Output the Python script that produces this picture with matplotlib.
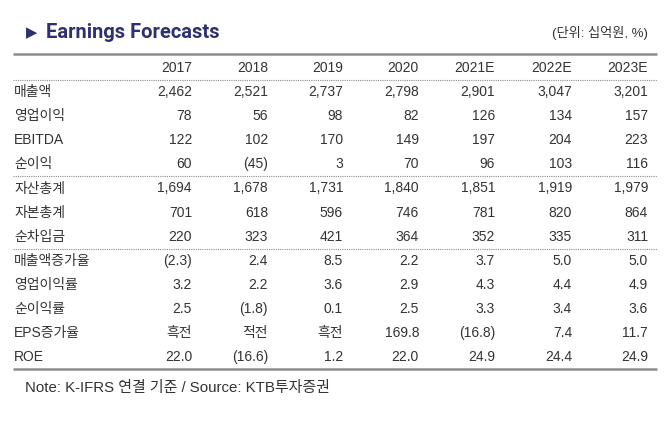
import matplotlib.pyplot as plt

plt.rcParams['font.family'] = ['Liberation Sans', 'Noto Sans CJK KR']

years = ['2017', '2018', '2019', '2020', '2021E', '2022E', '2023E']
row_labels = ['매출액', '영업이익', 'EBITDA', '순이익',
              '자산총계', '자본총계', '순차입금',
              '매출액증가율', '영업이익률', '순이익률', 'EPS증가율', 'ROE']
sales = ['2,462', '2,521', '2,737', '2,798', '2,901', '3,047', '3,201']
op_profit = ['78', '56', '98', '82', '126', '134', '157']
ebitda = ['122', '102', '170', '149', '197', '204', '223']
net_income = ['60', '(45)', '3', '70', '96', '103', '116']
total_assets = ['1,694', '1,678', '1,731', '1,840', '1,851', '1,919', '1,979']
total_equity = ['701', '618', '596', '746', '781', '820', '864']
net_debt = ['220', '323', '421', '364', '352', '335', '311']
sales_growth = ['(2.3)', '2.4', '8.5', '2.2', '3.7', '5.0', '5.0']
op_margin = ['3.2', '2.2', '3.6', '2.9', '4.3', '4.4', '4.9']
net_margin = ['2.5', '(1.8)', '0.1', '2.5', '3.3', '3.4', '3.6']
eps_growth = ['흑전', '적전', '흑전', '169.8', '(16.8)', '7.4', '11.7']
roe = ['22.0', '(16.6)', '1.2', '22.0', '24.9', '24.4', '24.9']

rows = [sales, op_profit, ebitda, net_income, total_assets, total_equity, net_debt,
        sales_growth, op_margin, net_margin, eps_growth, roe]
group_breaks = [4, 7]  # dotted line before these rows

W, H = 670, 423
fig = plt.figure(figsize=(W / 100, H / 100), dpi=100)
ax = fig.add_axes([0, 0, 1, 1])
ax.set_xlim(0, W)
ax.set_ylim(H, 0)
ax.axis('off')

txt = '#333333'
navy = '#2d3170'
col_right = [192, 268, 343, 419, 495, 572, 648]
x_left, x_right = 13, 657
y0, step = 68, 24.1

# title
ax.text(26, 33, '▶', color=navy, fontsize=10.5, va='center', ha='left', family='DejaVu Sans')
ax.text(46, 33, 'Earnings Forecasts', color=navy, fontsize=14.5, fontweight='bold',
        va='center', ha='left', family='Roboto')
ax.text(648, 33, '(단위: 십억원, %)', color=txt, fontsize=9.5, va='center', ha='right')

ax.plot([x_left, x_right], [54.5, 54.5], color='#8c8c8c', lw=1.8, solid_capstyle='butt')

# header
for x, yr in zip(col_right, years):
    ax.text(x, y0, yr, color=txt, fontsize=10, ha='right', va='center')
ax.plot([x_left, x_right], [y0 + step / 2, y0 + step / 2], color='#8c8c8c', lw=0.8, ls=(0, (1, 1)))

for i, (label, vals) in enumerate(zip(row_labels, rows)):
    y = y0 + step * (i + 1)
    if i in group_breaks:
        ax.plot([x_left, x_right], [y - step / 2, y - step / 2], color='#8c8c8c', lw=0.8, ls=(0, (1, 1)))
    ax.text(14, y, label, color=txt, fontsize=10, ha='left', va='center')
    for x, v in zip(col_right, vals):
        ax.text(x, y, v, color=txt, fontsize=10, ha='right', va='center')

y_end = y0 + step * (len(rows) + 0.5)
ax.plot([x_left, x_right], [y_end, y_end], color='#8c8c8c', lw=1.8, solid_capstyle='butt')

ax.text(25, 388, 'Note: K-IFRS 연결 기준 / Source: KTB투자증권', color=txt, fontsize=10.8,
        ha='left', va='center')

fig.savefig('out.png', dpi=100, facecolor='white')
